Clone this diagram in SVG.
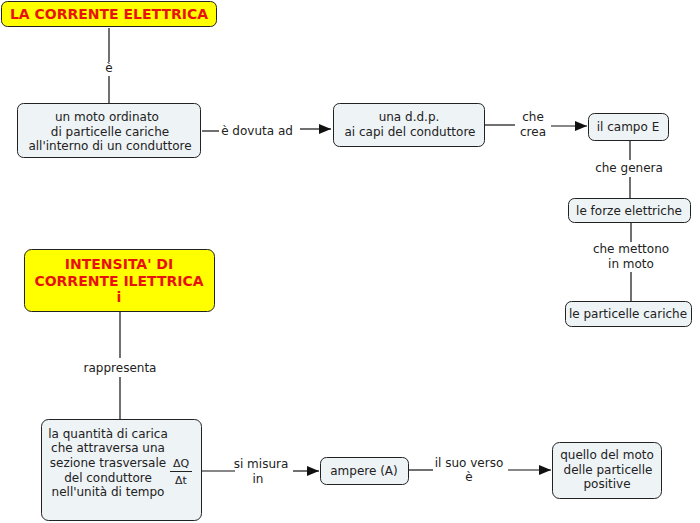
<svg xmlns="http://www.w3.org/2000/svg" width="700" height="523" viewBox="0 0 700 523">
<style>
.n{fill:#EEF3F6;stroke:#222;stroke-width:1}
.y{fill:#FFFF00;stroke:#222;stroke-width:1}
.t{font-family:"DejaVu Sans",Verdana,sans-serif;font-size:12px;fill:#222;text-anchor:middle}
.b{font-family:"DejaVu Sans",Verdana,sans-serif;font-size:14px;font-weight:bold;fill:#E8120C;text-anchor:middle}
.f{font-family:"DejaVu Sans",Verdana,sans-serif;font-size:11px;fill:#222;text-anchor:middle}
.c line{stroke:#111;stroke-width:1.2}
</style>
<defs>
<marker id="ar" markerWidth="12" markerHeight="10" refX="12" refY="5" orient="auto" markerUnits="userSpaceOnUse">
<path d="M0,0 L12,5 L0,10 Z" fill="#111"/>
</marker>
</defs>
<rect width="700" height="523" fill="#fff"/>
<g class="c" id="connectors">
<line x1="109" y1="28" x2="109" y2="62"/>
<line x1="109" y1="76" x2="109" y2="103"/>
<line x1="202" y1="131" x2="219" y2="131"/>
<line x1="300" y1="129" x2="331" y2="129" marker-end="url(#ar)"/>
<line x1="485" y1="125" x2="515" y2="125"/>
<line x1="551" y1="126" x2="587" y2="126" marker-end="url(#ar)"/>
<line x1="630" y1="141" x2="630" y2="160"/>
<line x1="630" y1="177" x2="630" y2="198"/>
<line x1="631" y1="223" x2="631" y2="242"/>
<line x1="631" y1="272" x2="631" y2="301"/>
<line x1="120" y1="312" x2="120" y2="358"/>
<line x1="120" y1="377" x2="120" y2="419"/>
<line x1="202" y1="471" x2="235" y2="471"/>
<line x1="293" y1="471" x2="319" y2="471" marker-end="url(#ar)"/>
<line x1="409" y1="470" x2="433" y2="470"/>
<line x1="508" y1="470" x2="551" y2="470" marker-end="url(#ar)"/>
<text class="t" x="109" y="72">è</text>
<text class="t" x="257" y="135">è dovuta ad</text>
<text class="t" x="533" y="121">che</text>
<text class="t" x="533" y="136">crea</text>
<text class="t" x="629" y="172">che genera</text>
<text class="t" x="631" y="253">che mettono</text>
<text class="t" x="631" y="268">in moto</text>
<text class="t" x="120" y="372">rappresenta</text>
<text class="t" x="261" y="468">si misura</text>
<text class="t" x="258" y="483">in</text>
<text class="t" x="469" y="467">il suo verso</text>
<text class="t" x="469" y="481">è</text>
</g>
<g id="n1">
<rect class="y" x="1.5" y="1.5" width="215" height="25" rx="6"/>
<text class="b" x="109" y="19">LA CORRENTE ELETTRICA</text>
</g>
<g id="n2">
<rect class="n" x="17.5" y="103.5" width="183" height="54" rx="6"/>
<text class="t" x="107" y="121">un moto ordinato</text>
<text class="t" x="110" y="136">di particelle cariche</text>
<text class="t" x="110" y="150">all'interno di un conduttore</text>
</g>
<g id="n3">
<rect class="n" x="333.5" y="103.5" width="151" height="43" rx="6"/>
<text class="t" x="409" y="121">una d.d.p.</text>
<text class="t" x="410" y="136">ai capi del conduttore</text>
</g>
<g id="n4">
<rect class="n" x="588.5" y="113.5" width="80" height="27" rx="6"/>
<text class="t" x="628" y="131">il campo E</text>
</g>
<g id="n5">
<rect class="n" x="568.5" y="198.5" width="122" height="24" rx="6"/>
<text class="t" x="629" y="215">le forze elettriche</text>
</g>
<g id="n6">
<rect class="n" x="565.5" y="301.5" width="126" height="25" rx="6"/>
<text class="t" x="628" y="318">le particelle cariche</text>
</g>
<g id="n7">
<rect class="y" x="24.5" y="249.5" width="190" height="62" rx="7"/>
<text class="b" x="119" y="269">INTENSITA' DI</text>
<text class="b" x="119" y="286">CORRENTE ILETTRICA</text>
<text class="b" x="119" y="302">i</text>
</g>
<g id="n8">
<rect class="n" x="41.5" y="419.5" width="160" height="101" rx="7"/>
<text class="t" x="108" y="438">la quantità di carica</text>
<text class="t" x="108" y="452">che attraversa una</text>
<text class="t" x="108" y="467">sezione trasversale</text>
<text class="t" x="108" y="482">del conduttore</text>
<text class="t" x="108" y="496">nell'unità di tempo</text>
<text class="f" x="181" y="467">ΔQ</text>
<line x1="170" y1="471.5" x2="192" y2="471.5" stroke="#222" stroke-width="1"/>
<text class="f" x="181" y="484">Δt</text>
</g>
<g id="n9">
<rect class="n" x="320.5" y="457.5" width="88" height="27" rx="6"/>
<text class="t" x="364" y="475">ampere (A)</text>
</g>
<g id="n10">
<rect class="n" x="552.5" y="442.5" width="109" height="56" rx="7"/>
<text class="t" x="607" y="459">quello del moto</text>
<text class="t" x="608" y="474">delle particelle</text>
<text class="t" x="607" y="488">positive</text>
</g>
</svg>
